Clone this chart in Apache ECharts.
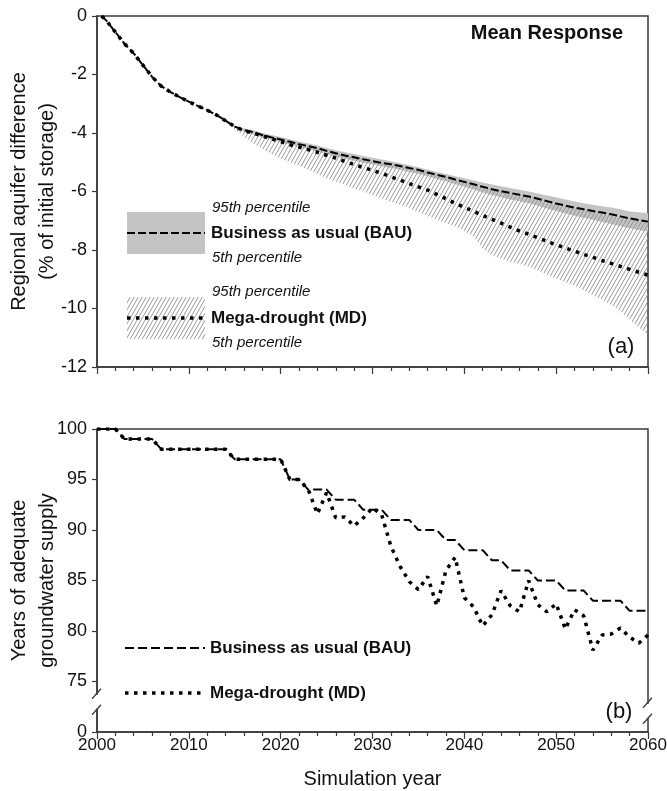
<!DOCTYPE html>
<html><head><meta charset="utf-8">
<script src="https://cdn.jsdelivr.net/npm/echarts@6/dist/echarts.min.js"></script>
<style>html,body{margin:0;padding:0;background:#fff}#c{width:667px;height:791px}</style>
</head><body><div id="c"></div>
<script>
// ---------- Panel (a): regional aquifer difference (% of initial storage) ----------
const topYears = [2000.5,2001,2002,2003,2004,2005,2006,2007,2008,2009,2010,2011,2012,2013,2014,2015,2016,2017,2018,2019,2020,2021,2022,2023,2024,2025,2026,2027,2028,2029,2030,2031,2032,2033,2034,2035,2036,2037,2038,2039,2040,2041,2042,2043,2044,2045,2046,2047,2048,2049,2050,2051,2052,2053,2054,2055,2056,2057,2058,2059,2060];
const bauMean = [0,-0.15,-0.55,-0.95,-1.28,-1.68,-2.08,-2.4,-2.6,-2.77,-2.93,-3.08,-3.22,-3.38,-3.58,-3.78,-3.9,-3.97,-4.07,-4.15,-4.22,-4.3,-4.38,-4.45,-4.52,-4.61,-4.69,-4.77,-4.83,-4.9,-4.96,-5.02,-5.07,-5.13,-5.2,-5.26,-5.35,-5.43,-5.5,-5.59,-5.67,-5.75,-5.84,-5.92,-5.99,-6.05,-6.11,-6.17,-6.25,-6.33,-6.41,-6.48,-6.55,-6.61,-6.67,-6.72,-6.78,-6.85,-6.92,-6.98,-7.03];
const mdMean = [0,-0.15,-0.55,-0.95,-1.28,-1.68,-2.08,-2.4,-2.6,-2.77,-2.93,-3.08,-3.22,-3.38,-3.58,-3.78,-3.92,-4.0,-4.1,-4.2,-4.3,-4.4,-4.48,-4.57,-4.66,-4.76,-4.86,-4.97,-5.08,-5.18,-5.28,-5.38,-5.5,-5.61,-5.73,-5.84,-5.95,-6.1,-6.25,-6.4,-6.54,-6.68,-6.82,-6.95,-7.08,-7.22,-7.35,-7.46,-7.58,-7.7,-7.82,-7.93,-8.04,-8.15,-8.25,-8.36,-8.46,-8.56,-8.66,-8.76,-8.86];

const bandYears = [2014,2015,2016,2017,2018,2019,2020,2021,2022,2023,2024,2025,2026,2027,2028,2029,2030,2031,2032,2033,2034,2035,2036,2037,2038,2039,2040,2041,2042,2043,2044,2045,2046,2047,2048,2049,2050,2051,2052,2053,2054,2055,2056,2057,2058,2059,2060];
const bauP95 = [-3.58,-3.75,-3.85,-3.91,-4.0,-4.07,-4.14,-4.21,-4.29,-4.36,-4.43,-4.51,-4.59,-4.66,-4.72,-4.79,-4.85,-4.91,-4.97,-5.03,-5.1,-5.17,-5.26,-5.33,-5.4,-5.48,-5.55,-5.62,-5.69,-5.76,-5.82,-5.88,-5.94,-6.0,-6.07,-6.14,-6.2,-6.27,-6.34,-6.4,-6.45,-6.5,-6.55,-6.61,-6.68,-6.71,-6.74];
const bauP5 = [-3.6,-3.82,-3.96,-4.05,-4.15,-4.24,-4.32,-4.4,-4.48,-4.56,-4.63,-4.72,-4.8,-4.88,-4.95,-5.02,-5.08,-5.14,-5.2,-5.26,-5.33,-5.4,-5.48,-5.57,-5.65,-5.75,-5.84,-5.93,-6.03,-6.12,-6.2,-6.27,-6.33,-6.4,-6.49,-6.58,-6.67,-6.75,-6.83,-6.9,-6.97,-7.04,-7.11,-7.19,-7.26,-7.32,-7.37];
const mdP95 = [-3.6,-3.8,-3.92,-3.99,-4.09,-4.17,-4.24,-4.32,-4.4,-4.47,-4.54,-4.63,-4.71,-4.79,-4.85,-4.92,-4.98,-5.04,-5.09,-5.15,-5.22,-5.28,-5.37,-5.45,-5.52,-5.61,-5.69,-5.77,-5.86,-5.94,-6.01,-6.07,-6.13,-6.19,-6.27,-6.35,-6.43,-6.5,-6.57,-6.63,-6.69,-6.74,-6.8,-6.87,-6.94,-7.0,-7.05];
const mdP5 = [-3.62,-3.9,-4.12,-4.35,-4.55,-4.72,-4.88,-5.0,-5.12,-5.25,-5.4,-5.55,-5.67,-5.78,-5.9,-6.0,-6.12,-6.24,-6.35,-6.45,-6.57,-6.7,-6.84,-6.97,-7.08,-7.2,-7.35,-7.55,-7.95,-8.2,-8.3,-8.4,-8.48,-8.56,-8.7,-8.85,-8.98,-9.1,-9.22,-9.38,-9.55,-9.7,-9.88,-10.1,-10.38,-10.65,-10.9];

// ---------- Panel (b): years of adequate groundwater supply ----------
const bottomYears = [2000,2001,2002,2003,2004,2005,2006,2007,2008,2009,2010,2011,2012,2013,2014,2015,2016,2017,2018,2019,2020,2021,2022,2023,2024,2025,2026,2027,2028,2029,2030,2031,2032,2033,2034,2035,2036,2037,2038,2039,2040,2041,2042,2043,2044,2045,2046,2047,2048,2049,2050,2051,2052,2053,2054,2055,2056,2057,2058,2059,2060];
const bauSupply = [100,100,100,99,99,99,99,98,98,98,98,98,98,98,98,97,97,97,97,97,97,95,95,94,94,94,93,93,93,92,92,92,91,91,91,90,90,90,89,89,88,88,88,87,87,86,86,86,85,85,85,84,84,84,83,83,83,83,82,82,82];
const mdSupply = [100,100,100,99,99,99,99,98,98,98,98,98,98,98,98,97,97,97,97,97,97,95,95,94,91.6,93.7,91.2,91.3,90.4,91.2,92.2,91.5,88.4,86.4,84.9,84.1,85.4,82.5,86,87.3,83.3,82.4,80.5,81.6,84,82.5,81.9,85,82.6,81.9,82.7,80.2,82.1,81.5,78.1,79.6,79.7,80.3,79.4,78.8,79.6];

const topYTicks = [-12,-10,-8,-6,-4,-2,0];
const bottomYTickLabels = {70:'0',75:'75',80:'80',85:'85',90:'90',95:'95',100:'100'};

const FONT = '"Liberation Sans", Arial, Helvetica, sans-serif';
const AX = '#3a3a3a';

function hatchCanvas(){
  const c = document.createElement('canvas'); c.width = 4; c.height = 7;
  const g = c.getContext('2d');
  g.strokeStyle = '#8d8d8d'; g.lineWidth = 0.9;
  for (const dx of [-4,0,4]) { g.beginPath(); g.moveTo(dx-1, 7+1.75); g.lineTo(dx+5, -1.75); g.stroke(); }
  return c;
}
const hatch = {image: hatchCanvas(), repeat: 'repeat'};

const pairs = (xs, ys) => xs.map((x,i)=>[x, ys[i]]);

function bandSeries(name, lo, hi, fill, z){
  return {
    name, type:'custom', xAxisIndex:0, yAxisIndex:0, z, silent:true,
    data: bandYears.map((y,i)=>[y, lo[i], hi[i]]),
    encode:{x:0, y:[1,2]},
    renderItem:(params, api)=>{
      if (params.dataIndex !== 0) return null;
      const upper = bandYears.map((y,i)=>api.coord([y, hi[i]]));
      const lower = bandYears.map((y,i)=>api.coord([y, lo[i]])).reverse();
      return {type:'polygon', shape:{points: upper.concat(lower)}, style:{fill, stroke:null}};
    }
  };
}

const chart = echarts.init(document.getElementById('c'), null, {renderer:'canvas'});

const xCommon = {
  type:'value', min:2000, max:2060, interval:10,
  axisLine:{show:true, onZero:false, lineStyle:{color:AX, width:1.5}},
  axisTick:{show:true, length:7, lineStyle:{color:AX, width:1.2}},
  minorTick:{show:true, splitNumber:5, length:4, lineStyle:{color:AX, width:1.2}},
  splitLine:{show:false}, minorSplitLine:{show:false}
};

const option = {
  animation:false,
  backgroundColor:'#fff',
  textStyle:{fontFamily:FONT},
  grid:[
    {left:97, right:19, top:16, height:351, show:true, borderColor:AX, borderWidth:1.5, containLabel:false, outerBoundsMode:'none'},
    {left:97, right:19, top:429, height:303, show:true, borderColor:AX, borderWidth:1.5, containLabel:false, outerBoundsMode:'none'}
  ],
  xAxis:[
    Object.assign({}, xCommon, {gridIndex:0, axisLabel:{show:false}}),
    Object.assign({}, xCommon, {gridIndex:1, name:'Simulation year', nameLocation:'middle', nameGap:37,
      nameTextStyle:{fontSize:20, color:'#111', fontFamily:FONT},
      axisLabel:{show:true, fontSize:17, color:'#111', margin:5, fontFamily:FONT, formatter:v=>String(v)}})
  ],
  yAxis:[
    {gridIndex:0, type:'value', min:topYTicks[0], max:topYTicks[topYTicks.length-1], interval:2,
      axisLine:{show:true, onZero:false, lineStyle:{color:AX, width:1.5}},
      axisTick:{show:true, length:5, lineStyle:{color:AX, width:1.2}},
      axisLabel:{fontSize:18, color:'#111', margin:10, fontFamily:FONT},
      splitLine:{show:false}},
    {gridIndex:1, type:'value', min:70, max:100, interval:5,
      axisLine:{show:true, onZero:false, lineStyle:{color:AX, width:1.5}},
      axisTick:{show:true, length:5, lineStyle:{color:AX, width:1.2}},
      axisLabel:{fontSize:18, color:'#111', margin:10, fontFamily:FONT,
        formatter:v=>bottomYTickLabels[v] !== undefined ? bottomYTickLabels[v] : ''},
      splitLine:{show:false}}
  ],
  series:[
    bandSeries('BAU 5th-95th percentile', bauP5, bauP95, '#c4c4c4', 1),
    bandSeries('MD 5th-95th percentile', mdP5, mdP95, hatch, 2),
    {name:'Business as usual (BAU)', type:'line', xAxisIndex:0, yAxisIndex:0, data:pairs(topYears,bauMean),
      symbol:'none', lineStyle:{color:'#000', width:2, type:[8,3]}, z:5},
    {name:'Mega-drought (MD)', type:'line', xAxisIndex:0, yAxisIndex:0, data:pairs(topYears,mdMean),
      symbol:'none', lineStyle:{color:'#000', width:3.5, type:[3.5,5.5], cap:'butt'}, z:5},
    {name:'BAU supply', type:'line', xAxisIndex:1, yAxisIndex:1, data:pairs(bottomYears,bauSupply),
      symbol:'none', lineStyle:{color:'#000', width:2, type:[9,4]}, z:5},
    {name:'MD supply', type:'line', xAxisIndex:1, yAxisIndex:1, data:pairs(bottomYears,mdSupply),
      symbol:'none', lineStyle:{color:'#000', width:3.5, type:[3.5,5.5], cap:'butt'}, z:5}
  ]
};
chart.setOption(option);

// ----- annotations, legends, axis titles, axis break -----
const txt = (text, x, y, font, extra) => Object.assign({type:'text', x, y, z:100,
  style:Object.assign({text, font, fill:'#111', align:'left', verticalAlign:'middle'}, extra||{})});
const line = (x1,y1,x2,y2,st) => ({type:'line', z:100, shape:{x1,y1,x2,y2}, style:Object.assign({stroke:'#000'}, st)});

const xl = chart.convertToPixel({xAxisIndex:1}, 2000);
const xr = chart.convertToPixel({xAxisIndex:1}, 2060);
const yBL = chart.convertToPixel({yAxisIndex:1}, 73);
const yBR = chart.convertToPixel({yAxisIndex:1}, 72.1);
const yTopMid = (chart.convertToPixel({yAxisIndex:0}, 0) + chart.convertToPixel({yAxisIndex:0}, -12))/2;
const yBotMid = (chart.convertToPixel({yAxisIndex:1}, 100) + chart.convertToPixel({yAxisIndex:1}, 70))/2;

const breakMarks = (x, yc) => [
  {type:'rect', z:99, shape:{x:x-3, y:yc-7, width:6, height:14}, style:{fill:'#fff'}},
  line(x-5, yc-3, x+4, yc-13, {stroke:AX, lineWidth:1.3}),
  line(x-5, yc+13, x+4, yc+3, {stroke:AX, lineWidth:1.3})
];

const graphics = [
  {type:'text', z:100, x:33, y:yTopMid, rotation:Math.PI/2,
    style:{text:'Regional aquifer difference\n(% of initial storage)', font:'20px '+FONT, fill:'#111', align:'center', verticalAlign:'middle', lineHeight:28}},
  {type:'text', z:100, x:33, y:yBotMid, rotation:Math.PI/2,
    style:{text:'Years of adequate\ngroundwater supply', font:'20px '+FONT, fill:'#111', align:'center', verticalAlign:'middle', lineHeight:28}},
  txt('Mean Response', 623, 33, 'bold 20px '+FONT, {align:'right'}),
  txt('(a)', 621, 347, '22px '+FONT, {align:'center'}),
  txt('(b)', 619, 712, '22px '+FONT, {align:'center'}),
  {type:'rect', z:100, shape:{x:127, y:212, width:78, height:42}, style:{fill:'#c4c4c4'}},
  line(127, 233, 205, 233, {lineWidth:2, lineDash:[8,3]}),
  txt('95th percentile', 212, 208, 'italic 15px '+FONT),
  txt('Business as usual (BAU)', 211, 233, 'bold 17px '+FONT),
  txt('5th percentile', 212, 258, 'italic 15px '+FONT),
  {type:'rect', z:100, shape:{x:127, y:297, width:78, height:42}, style:{fill:hatch}},
  line(127, 318, 205, 318, {lineWidth:3.5, lineDash:[3.5,5.5], lineCap:'butt'}),
  txt('95th percentile', 212, 292, 'italic 15px '+FONT),
  txt('Mega-drought (MD)', 211, 318, 'bold 17px '+FONT),
  txt('5th percentile', 212, 343, 'italic 15px '+FONT),
  line(125, 648, 205, 648, {lineWidth:2, lineDash:[9,4]}),
  txt('Business as usual (BAU)', 210, 648, 'bold 17px '+FONT),
  line(125, 693, 203, 693, {lineWidth:3.5, lineDash:[3.5,5.5], lineCap:'butt'}),
  txt('Mega-drought (MD)', 210, 693, 'bold 17px '+FONT)
].concat(breakMarks(xl, yBL), breakMarks(xr, yBR));

chart.setOption({graphic:{elements:graphics}});
</script>
</body></html>
